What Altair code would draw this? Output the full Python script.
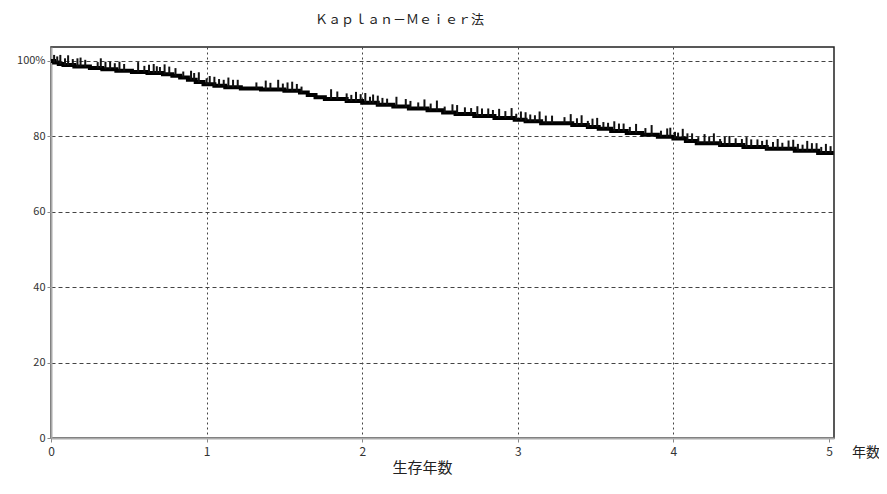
import altair as alt
import pandas as pd

# Kaplan-Meier step curve: event times (years) and survival (%) after each step
event_times = [0.00, 0.02, 0.05, 0.08, 0.15, 0.25, 0.33, 0.42, 0.52, 0.62, 0.72, 0.78,
               0.83, 0.88, 0.93, 0.98, 1.05, 1.12, 1.22, 1.35, 1.50, 1.60, 1.65, 1.70,
               1.76, 1.90, 2.00, 2.10, 2.20, 2.30, 2.42, 2.52, 2.60, 2.72, 2.85, 2.98,
               3.05, 3.15, 3.35, 3.45, 3.52, 3.60, 3.70, 3.80, 3.90, 4.00, 4.08, 4.15,
               4.30, 4.45, 4.60, 4.78, 4.93, 5.03]
survival = [100.0, 99.6, 99.2, 98.9, 98.5, 98.1, 97.8, 97.4, 97.1, 96.8, 96.5, 96.1,
            95.6, 95.0, 94.4, 93.8, 93.4, 93.0, 92.7, 92.4, 92.1, 91.6, 91.0, 90.4,
            89.9, 89.4, 88.9, 88.4, 87.9, 87.4, 86.9, 86.3, 85.9, 85.4, 84.9, 84.4,
            84.0, 83.5, 83.0, 82.5, 82.0, 81.4, 80.9, 80.4, 79.9, 79.4, 78.8, 78.2,
            77.7, 77.2, 76.7, 76.2, 75.6, 75.6]

# censored observations (years)
censor_times = [0.02, 0.04, 0.06, 0.09, 0.11, 0.14, 0.17, 0.19, 0.22, 0.30, 0.32, 0.35,
                0.38, 0.41, 0.44, 0.47, 0.56, 0.60, 0.63, 0.66, 0.68, 0.70, 0.73, 0.76,
                0.80, 0.85, 0.90, 0.92, 0.95, 1.00, 1.02, 1.05, 1.08, 1.11, 1.14, 1.17,
                1.20, 1.32, 1.38, 1.41, 1.46, 1.49, 1.52, 1.55, 1.58, 1.61, 1.80, 1.84,
                1.90, 1.93, 1.96, 1.99, 2.02, 2.05, 2.07, 2.10, 2.13, 2.16, 2.22, 2.28,
                2.31, 2.36, 2.40, 2.44, 2.48, 2.53, 2.58, 2.61, 2.66, 2.70, 2.74, 2.77,
                2.81, 2.84, 2.88, 2.92, 2.96, 2.99, 3.02, 3.05, 3.08, 3.11, 3.14, 3.18,
                3.22, 3.30, 3.34, 3.38, 3.41, 3.45, 3.48, 3.51, 3.55, 3.58, 3.62, 3.65,
                3.68, 3.72, 3.76, 3.82, 3.86, 3.92, 3.96, 3.98, 4.01, 4.03, 4.06, 4.09,
                4.12, 4.16, 4.20, 4.23, 4.26, 4.30, 4.33, 4.36, 4.40, 4.44, 4.47, 4.50,
                4.54, 4.57, 4.60, 4.64, 4.67, 4.70, 4.74, 4.77, 4.80, 4.83, 4.86, 4.89,
                4.92, 4.95, 4.98, 5.01]
censor_heights = [2.0, 1.6, 2.4, 1.8, 2.6, 1.6, 2.2, 2.4, 1.8, 1.6, 2.6, 2.0]

x_ticks = [0, 1, 2, 3, 4, 5]
y_ticks = [0, 20, 40, 60, 80, 100]

FONT = "Noto Sans CJK JP"


def s_at(t):
    val = survival[0]
    for et, sv in zip(event_times, survival):
        if et <= t:
            val = sv
        else:
            break
    return val


curve = pd.DataFrame({"t": event_times, "s": survival})
cens = pd.DataFrame({
    "t": censor_times,
    "s": [s_at(t) for t in censor_times],
    "s2": [s_at(t) + censor_heights[i % len(censor_heights)] for i, t in enumerate(censor_times)],
})

xscale = alt.Scale(domain=[0, 5.032], nice=False, zero=False)
yscale = alt.Scale(domain=[0, 103.7], nice=False)

xaxis = alt.Axis(
    values=x_ticks, format="d", labelFlush=False,
    title="生存年数", titleFont=FONT, titleFontSize=15,
    titleFontWeight="normal", titleColor="#222", titleX=371, titleY=22,
    titleBaseline="top",
    labelFont=FONT, labelFontSize=12, labelColor="#333", labelPadding=4,
    tickSize=4, tickColor="#888", domainColor="#aaa", domainWidth=2,
    grid=True, gridColor="#444", gridDash=[2, 3], gridWidth=1,
    gridOpacity={"condition": {"test": "datum.value <= 0 || datum.value >= 5", "value": 0}, "value": 1},
)
yaxis = alt.Axis(
    values=y_ticks, title=None,
    labelExpr="datum.value == 100 ? '100%' : datum.value",
    labelFont=FONT, labelFontSize=11, labelColor="#333", labelPadding=2,
    tickSize=4, tickColor="#888", domainColor="#aaa", domainWidth=2,
    grid=True, gridColor="#444", gridDash=[4, 3], gridWidth=1,
    gridOpacity={"condition": {"test": "datum.value <= 0", "value": 0}, "value": 1},
)

line = alt.Chart(curve).mark_line(interpolate="step-after", color="#000", strokeWidth=4).encode(
    x=alt.X("t:Q", scale=xscale, axis=xaxis),
    y=alt.Y("s:Q", scale=yscale, axis=yaxis),
)

ticks = alt.Chart(cens).mark_rule(color="#111", strokeWidth=2).encode(
    x=alt.X("t:Q", scale=xscale),
    y=alt.Y("s:Q", scale=yscale),
    y2="s2:Q",
)

unit = alt.Chart(pd.DataFrame({"label": ["年数"]})).mark_text(
    font=FONT, fontSize=14, color="#222", align="left", baseline="middle"
).encode(
    x=alt.value(801), y=alt.value(406), text="label:N"
)

chart = alt.layer(line, ticks, unit).properties(
    width=783, height=391,
    autosize=alt.AutoSizeParams(type="none"),
    padding={"left": 43, "top": 39, "right": 45, "bottom": 56},
    title=alt.TitleParams(
        "Ｋａｐｌａｎ－Ｍｅｉｅｒ法", font=FONT, fontSize=13, fontWeight="normal",
        color="#222", anchor="start", frame="group", dx=264, offset=20,
    ),
).configure_view(stroke="#222", strokeWidth=1.5)

chart.save("out.html", embed_options={"renderer": "svg", "actions": False})
